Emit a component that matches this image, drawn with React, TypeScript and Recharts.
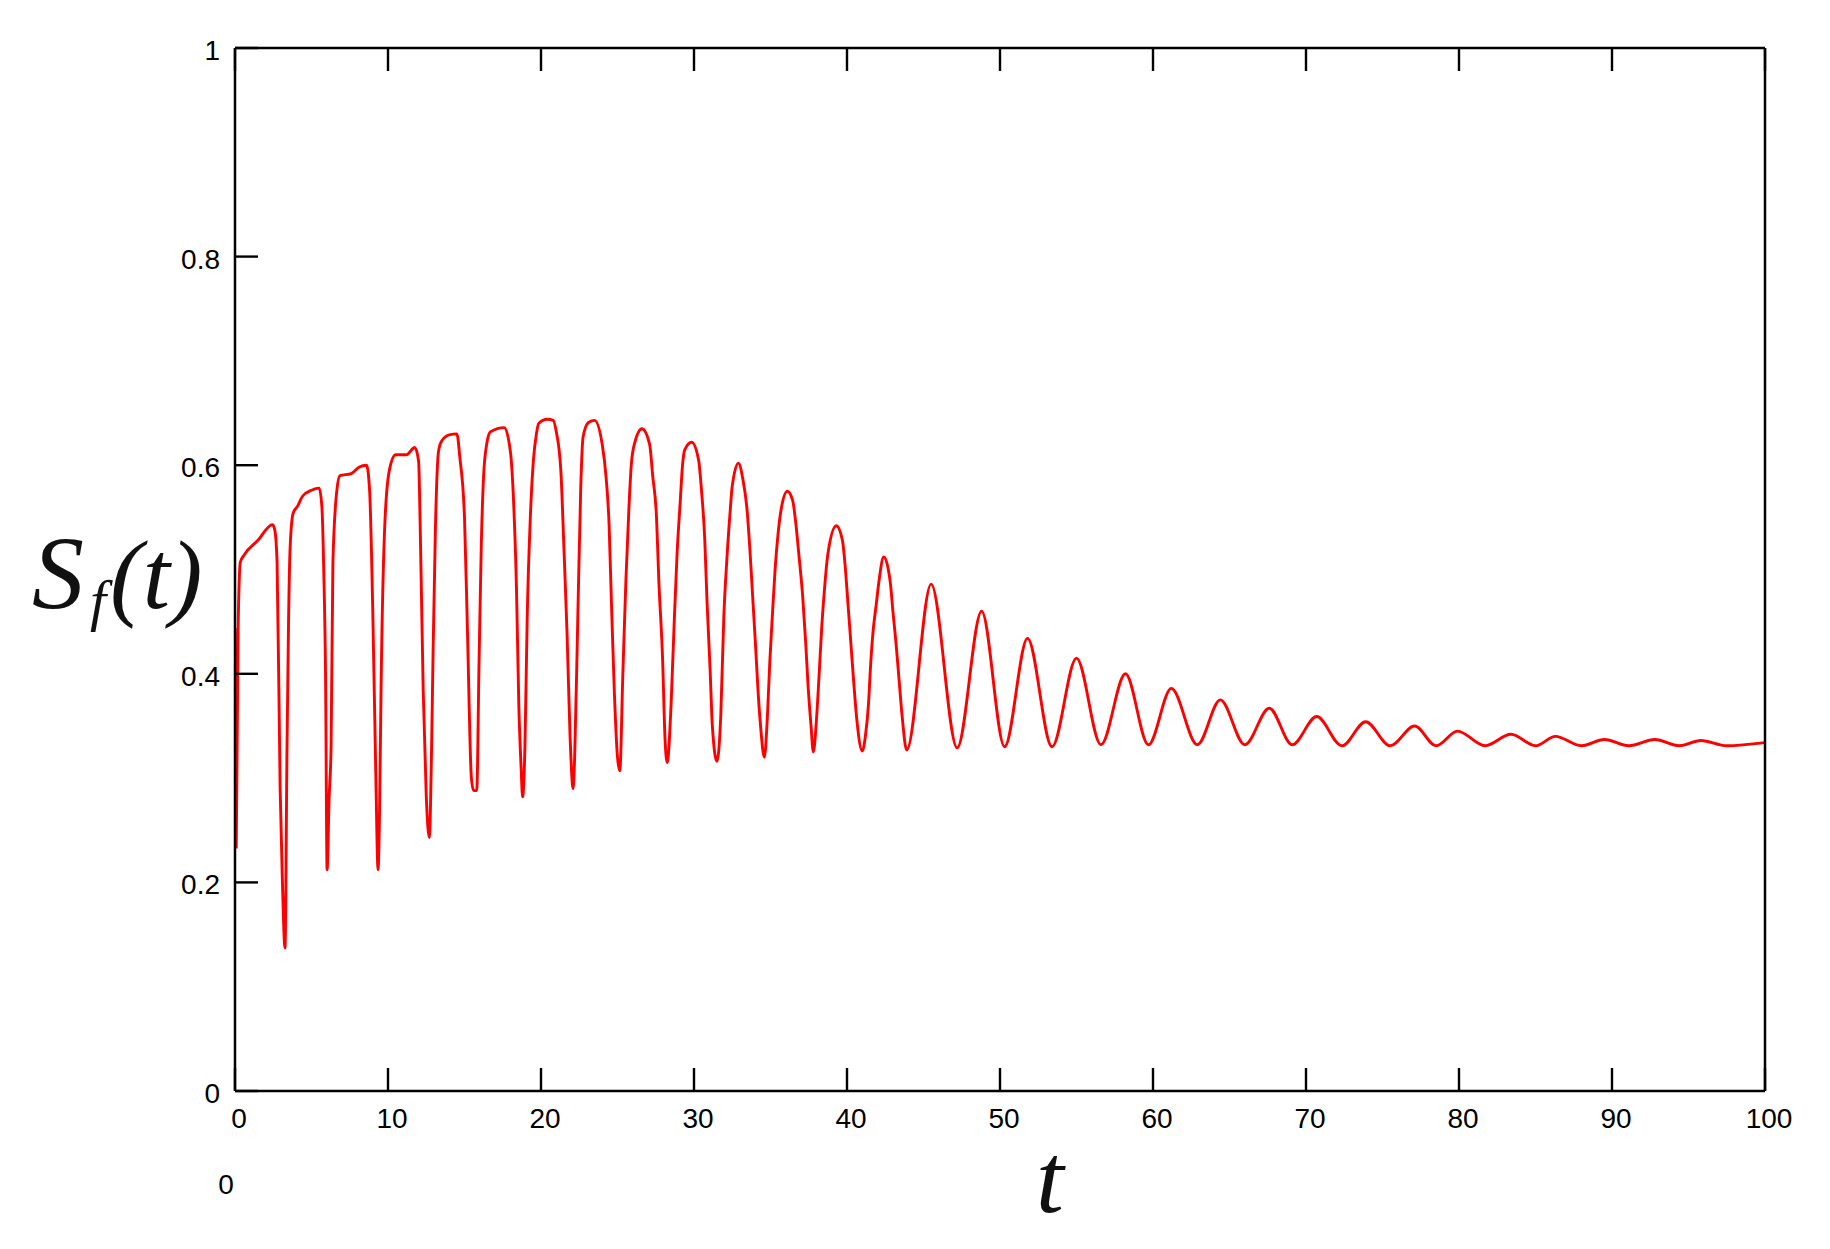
import React from "react";
import { LineChart, Line, XAxis, YAxis } from "recharts";

// S_f(t) samples, grouped by region of t
const earlySamples: [number, number][] = [
  [0, 0.444], [0.08, 0.234], [0.2, 0.44], [0.35, 0.507], [0.6, 0.514], [1.5, 0.528], [2.45, 0.543],
  [2.6, 0.538], [2.75, 0.507], [2.95, 0.29], [3.1, 0.2], [3.27, 0.137], [3.4, 0.33], [3.5, 0.45],
  [3.6, 0.52], [3.8, 0.554], [4.1, 0.561], [4.4, 0.57], [5.0, 0.576], [5.5, 0.578], [5.68, 0.56],
  [5.8, 0.5], [5.92, 0.397], [6.02, 0.212], [6.15, 0.28], [6.28, 0.33], [6.4, 0.507], [6.65, 0.575],
  [6.86, 0.59], [7.6, 0.592], [8.1, 0.598], [8.6, 0.6], [8.8, 0.575], [9.0, 0.464], [9.2, 0.306],
  [9.35, 0.212], [9.45, 0.27], [9.55, 0.39], [9.8, 0.546], [10.1, 0.596], [10.5, 0.61], [11.2, 0.61],
  [11.75, 0.617], [12.0, 0.604], [12.1, 0.545], [12.3, 0.385], [12.5, 0.283], [12.7, 0.243],
  [12.85, 0.33], [12.95, 0.424], [13.1, 0.54], [13.3, 0.613], [13.5, 0.623], [14.0, 0.629],
  [14.5, 0.63], [14.7, 0.607], [15.0, 0.55], [15.2, 0.437], [15.45, 0.3], [15.6, 0.288],
  [15.8, 0.288], [15.95, 0.41], [16.1, 0.525], [16.25, 0.59], [16.45, 0.62], [16.7, 0.632],
  [17.6, 0.636], [18.0, 0.613], [18.2, 0.568], [18.4, 0.48], [18.55, 0.37], [18.7, 0.31],
  [18.8, 0.282], [18.95, 0.33],
];

const middleSamples: [number, number][] = [
  [19.1, 0.455], [19.3, 0.549], [19.5, 0.604], [19.7, 0.63], [19.85, 0.64], [20.4, 0.644],
  [20.8, 0.643], [21.0, 0.632], [21.3, 0.594], [21.5, 0.52], [21.7, 0.44], [21.9, 0.34], [22.1, 0.29],
  [22.2, 0.32], [22.4, 0.45], [22.6, 0.58], [22.75, 0.627], [23.1, 0.641], [23.5, 0.643], [24.0, 0.62],
  [24.25, 0.589], [24.45, 0.543], [24.6, 0.47], [24.8, 0.38], [25.0, 0.32], [25.15, 0.307],
  [25.35, 0.4], [25.55, 0.49], [25.75, 0.56], [25.9, 0.6], [26.1, 0.62], [26.6, 0.635], [27.1, 0.62],
  [27.3, 0.59], [27.55, 0.55], [27.7, 0.49], [27.95, 0.413], [28.1, 0.34], [28.25, 0.315],
  [28.5, 0.37], [28.7, 0.447], [28.9, 0.517], [29.1, 0.565], [29.25, 0.6], [29.4, 0.615],
  [29.85, 0.622], [30.3, 0.605], [30.5, 0.574], [30.7, 0.53], [30.85, 0.47], [31.05, 0.405],
  [31.2, 0.35], [31.5, 0.316], [31.75, 0.36], [31.95, 0.455], [32.15, 0.51], [32.35, 0.553],
  [32.5, 0.58], [32.9, 0.602], [33.2, 0.586], [33.45, 0.56], [33.65, 0.52], [33.85, 0.47],
  [34.05, 0.42], [34.2, 0.38], [34.35, 0.35], [34.6, 0.32], [34.8, 0.36], [34.95, 0.41], [35.1, 0.45],
  [35.3, 0.5], [35.5, 0.535], [35.7, 0.558], [36.1, 0.575], [36.45, 0.566], [36.65, 0.545],
  [36.85, 0.515], [37.1, 0.475], [37.3, 0.43], [37.45, 0.39], [37.65, 0.35], [37.8, 0.325],
  [38.0, 0.355], [38.2, 0.405], [38.35, 0.445], [38.55, 0.485], [38.75, 0.515], [39.3, 0.542],
  [39.7, 0.528], [39.9, 0.5], [40.05, 0.47], [40.25, 0.43], [40.45, 0.39], [40.65, 0.355],
  [41.0, 0.326], [41.2, 0.34], [41.4, 0.37], [41.55, 0.41], [41.7, 0.44], [41.9, 0.465], [42.1, 0.49],
  [42.4, 0.512], [42.7, 0.5], [42.85, 0.485], [43.0, 0.46], [43.2, 0.43], [43.4, 0.395], [43.6, 0.36],
  [43.9, 0.327],
];

const lateSamples: [number, number][] = [
  [45.5, 0.486], [47.2, 0.329], [48.8, 0.46], [50.3, 0.33], [51.8, 0.434], [53.4, 0.33],
  [55.0, 0.415], [56.6, 0.332], [58.2, 0.4], [59.7, 0.332], [61.2, 0.386], [62.9, 0.332],
  [64.4, 0.375], [66.0, 0.332], [67.6, 0.367], [69.1, 0.332], [70.7, 0.359], [72.35, 0.331],
  [73.9, 0.354], [75.5, 0.331], [77.1, 0.35], [78.5, 0.331], [79.9, 0.345], [81.7, 0.331],
  [83.4, 0.342], [85.0, 0.331], [86.3, 0.34], [88.0, 0.331], [89.5, 0.337], [91.1, 0.331],
  [92.8, 0.337], [94.4, 0.331], [95.8, 0.336], [97.5, 0.331], [100, 0.334],
];

const xTicks = [0, 10, 20, 30, 40, 50, 60, 70, 80, 90, 100];
const yTicks = [0, 0.2, 0.4, 0.6, 0.8, 1];
const yTickLabels = ["0", "0.2", "0.4", "0.6", "0.8", "1"];

const data = [...earlySamples, ...middleSamples, ...lateSamples].map(([t, v]) => ({ t, v }));

const TICK_FONT = "'Liberation Sans Narrow', 'Liberation Sans', Arial, sans-serif";
const SERIF = "'Liberation Serif', 'Times New Roman', serif";
const TICK_LEN = 23;
const TICK_W = 2.4;
const TICK_FS = 28;

function BottomTick(props: any) {
  const { x, y, payload } = props;
  return (
    <g>
      <line x1={x} y1={y} x2={x} y2={y - TICK_LEN} stroke="#000" strokeWidth={TICK_W} />
      <text x={x + 4} y={y + 37} textAnchor="middle" fontFamily={TICK_FONT} fontSize={TICK_FS} fill="#000">
        {payload.value}
      </text>
    </g>
  );
}

function TopTick(props: any) {
  const { x, y } = props;
  return <line x1={x} y1={y} x2={x} y2={y + TICK_LEN} stroke="#000" strokeWidth={TICK_W} />;
}

function LeftTick(props: any) {
  const { x, y, payload } = props;
  const idx = yTicks.indexOf(payload.value);
  return (
    <g>
      <line x1={x} y1={y} x2={x + TICK_LEN} y2={y} stroke="#000" strokeWidth={TICK_W} />
      <text x={x - 15} y={y + 12} textAnchor="end" fontFamily={TICK_FONT} fontSize={TICK_FS} fill="#000">
        {idx >= 0 ? yTickLabels[idx] : payload.value}
      </text>
    </g>
  );
}

function RightTick(props: any) {
  const { x, y } = props;
  return <line x1={x} y1={y} x2={x - TICK_LEN} y2={y} stroke="#000" strokeWidth={TICK_W} />;
}

const axisLine = { stroke: "#000", strokeWidth: 2.5 };

export default function App() {
  return (
    <div style={{ position: "absolute", left: 0, top: 0, width: 1830, height: 1249, background: "#fff" }}>
      <LineChart width={1830} height={1249} data={data} margin={{ top: 38, right: 55, bottom: 98, left: 175 }}>
        <XAxis
          dataKey="t"
          type="number"
          domain={[0, 100]}
          ticks={xTicks}
          interval={0}
          height={60}
          tickSize={0}
          tickMargin={0}
          tickLine={false}
          axisLine={axisLine}
          tick={<BottomTick />}
          allowDataOverflow
        />
        <XAxis
          xAxisId="top"
          orientation="top"
          dataKey="t"
          type="number"
          domain={[0, 100]}
          ticks={xTicks}
          interval={0}
          height={10}
          tickSize={0}
          tickMargin={0}
          tickLine={false}
          axisLine={axisLine}
          tick={<TopTick />}
        />
        <YAxis
          type="number"
          domain={[0, 1]}
          ticks={yTicks}
          interval={0}
          width={60}
          tickSize={0}
          tickMargin={0}
          tickLine={false}
          axisLine={axisLine}
          tick={<LeftTick />}
          allowDataOverflow
        />
        <YAxis
          yAxisId="right"
          orientation="right"
          type="number"
          domain={[0, 1]}
          ticks={yTicks}
          interval={0}
          width={10}
          tickSize={0}
          tickMargin={0}
          tickLine={false}
          axisLine={axisLine}
          tick={<RightTick />}
        />
        <Line
          type="monotone"
          dataKey="v"
          stroke="#ff0000"
          strokeWidth={2.9}
          dot={false}
          activeDot={false}
          isAnimationActive={false}
        />
      </LineChart>
      <svg
        width={1830}
        height={1249}
        style={{ position: "absolute", left: 0, top: 0, pointerEvents: "none" }}
      >
        <text fontFamily={SERIF} fontStyle="italic" fill="#111">
          <tspan x={32} y={608} fontSize={104}>S</tspan>
          <tspan x={90} y={620} fontSize={58}>f</tspan>
          <tspan x={110} y={608} fontSize={98}>(t)</tspan>
        </text>
        <text x={1036} y={1212} fontFamily={SERIF} fontStyle="italic" fontSize={100} fill="#111">
          t
        </text>
        <text x={226} y={1194} textAnchor="middle" fontFamily={TICK_FONT} fontSize={TICK_FS} fill="#000">
          0
        </text>
      </svg>
    </div>
  );
}
